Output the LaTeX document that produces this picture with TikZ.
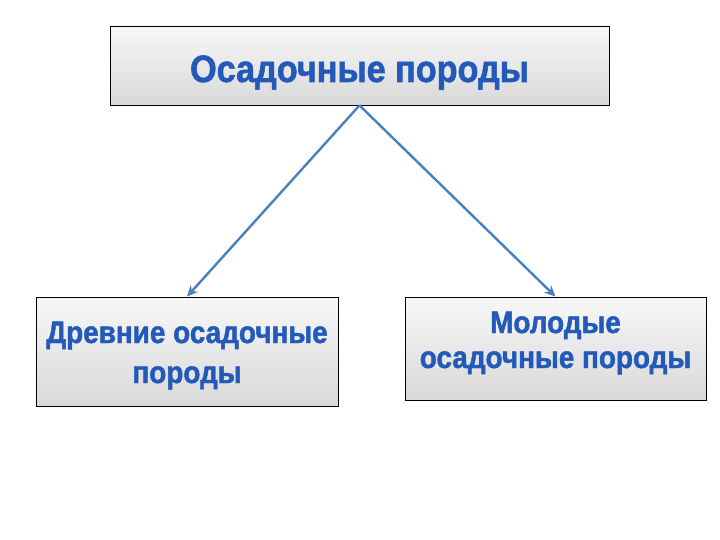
\documentclass[tikz,border=0pt]{standalone}
\usepackage{fontspec}
\setmainfont{Liberation Sans}
\newfontfamily\heavy[FakeBold=1.5,FakeStretch=0.9]{Liberation Sans Bold}
\usetikzlibrary{arrows.meta}
\definecolor{txtblue}{RGB}{35,90,185}
\definecolor{arrblue}{RGB}{72,128,192}
\tikzset{
  box/.style={draw=black, line width=0.8pt, top color=gray!6, bottom color=gray!30, inner sep=0pt},
  lbl/.style={anchor=base, inner sep=0pt, text=txtblue},
  conn/.style={draw=arrblue, line width=2.4pt, -{Stealth[length=11pt,width=10pt]}}
}
\begin{document}
\begin{tikzpicture}[x=1pt,y=-1pt]
\useasboundingbox (0,0) rectangle (720,540);
\fill[white] (0,0) rectangle (720,540);
\node[box, minimum width=499pt, minimum height=79pt] (top) at (359.5,65.5) {};
\node[box, minimum width=302pt, minimum height=109pt] (left) at (187,351.5) {};
\node[box, minimum width=301pt, minimum height=103pt] (right) at (555.5,348.5) {};
\node[lbl, font=\heavy\fontsize{38}{44}\selectfont] (topT) at (359.5,82) {Осадочные породы};
\node[lbl, font=\heavy\fontsize{31}{38}\selectfont] (leftA) at (187,343) {Древние осадочные};
\node[lbl, font=\heavy\fontsize{31}{38}\selectfont] (leftB) at (187,383) {породы};
\node[lbl, font=\heavy\fontsize{31}{38}\selectfont] (rightA) at (555.5,333) {Молодые};
\node[lbl, font=\heavy\fontsize{31}{38}\selectfont] (rightB) at (555.5,368) {осадочные породы};
\draw[conn] (top.south) -- (left.north);
\draw[conn] (top.south) -- (right.north);
\end{tikzpicture}
\end{document}
